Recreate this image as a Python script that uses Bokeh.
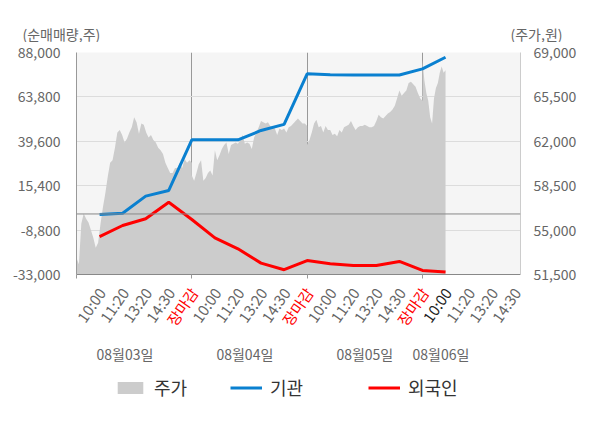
import math
from bokeh.plotting import figure
from bokeh.layouts import column
from bokeh.models import (Range1d, LinearAxis, FixedTicker, NumeralTickFormatter,
                          Span, Legend, LegendItem, CustomJSTickFormatter, ColumnDataSource)
from bokeh.core.properties import value
from bokeh.embed import file_html
from bokeh.resources import INLINE

# ---------------- data ----------------
days = ["08월03일", "08월04일", "08월05일", "08월06일"]
time_labels = ["10:00", "11:20", "13:20", "14:30", "장마감"]
last_day_ticks = 4          # 08월06일 shows 10:00 .. 14:30
last_reached_tick = 1       # 08월06일 data up to 10:00

price_day1 = [52800, 52300, 55500, 56300, 55900, 55600, 55000, 54400, 53600, 54000,
              55500, 56800, 57900, 59200, 60300, 60500, 61500, 62700, 62900, 62500,
              61900, 62200, 62700, 63100, 63900, 63500, 62600, 63400, 63300, 62700,
              62300, 62500, 62100, 61900, 61500, 61300, 61000, 60300, 59900, 59500,
              59500, 59900, 59900, 60300, 59900, 60600, 60300, 60500, 60300]
price_day2 = [59300, 58900, 59500, 60200, 60500, 58900, 59100, 59500, 59700, 59300,
              61300, 60500, 60900, 61400, 61700, 61900, 61000, 61700, 61800, 61900,
              61800, 62100, 62500, 61800, 61900, 61800, 61400, 62300, 62700, 63100,
              63600, 63500, 63400, 63500, 63200, 63100, 63000, 62500, 63000, 62900,
              63000, 62700, 63100, 63200, 63400, 63600, 63800, 63600, 63400, 63400,
              63200]
price_day3 = [61700, 62100, 62700, 63400, 63700, 63100, 63200, 62700, 63200, 62900,
              62900, 62500, 62600, 62400, 62900, 62700, 63100, 63200, 63300, 63600,
              63200, 62900, 63100, 63200, 63200, 63300, 63200, 63100, 63100, 63200,
              63600, 64100, 63900, 63800, 64000, 64200, 64300, 64500, 64800, 65400,
              66000, 65600, 65800, 66000, 66600, 66700, 66500, 66300, 65800, 65400,
              65200]
price_day4 = [68400, 66800, 65800, 65200, 63900, 63400, 65400, 66200, 66600, 67400,
              67900, 67400, 67600]

# cumulative net buying (shares) at each time label
inst = [-300, 400, 9700, 12800, 40400,
        40400, 40400, 45500, 48800, 76400,
        75900, 75700, 75700, 75700, 79100,
        85400]
foreign = [-12300, -6300, -2600, 6400, -3000,
           -13000, -19000, -26800, -30400, -25400,
           -27200, -28100, -28100, -25900, -30800,
           -31700]

left_ticks = [-33000, -8800, 15400, 39600, 63800, 88000]
right_ticks = [51500, 55000, 58500, 62000, 65500, 69000]

# ---------------- layout constants ----------------
W = 584
FRAME_L, FRAME_W, FRAME_H = 76, 444, 222
FRAME_R = W - FRAME_L - FRAME_W
TOP_H, PAD_T, PAD_B, BOT_H = 42, 10, 10, 128
FONT = "Noto Sans CJK KR"
GRAY = "#666666"
NAN = float("nan")

# ---------------- derived positions ----------------
n_per_day = len(time_labels)
price_days = [price_day1, price_day2, price_day3, price_day4]
px, py = [], []
for d, vals in enumerate(price_days):
    span = n_per_day if d < len(price_days) - 1 else last_reached_tick
    n = len(vals)
    for i, v in enumerate(vals):
        px.append(d * n_per_day + span * i / (n - 1))
        py.append(v)

tick_pos, tick_txt, tick_col = [], [], []
for d in range(len(days)):
    cnt = n_per_day if d < len(days) - 1 else last_day_ticks
    for k in range(cnt):
        tick_pos.append(d * n_per_day + k + 1)
        tick_txt.append(time_labels[k])
for i, t in enumerate(tick_txt):
    if t == "장마감":
        tick_col.append("#ff0000")
    elif i == len(inst) - 1:
        tick_col.append("#222222")
    else:
        tick_col.append(GRAY)
flow_x = tick_pos[:len(inst)]
x_end = (len(days) - 1) * n_per_day + last_day_ticks + 0.25
u = x_end / FRAME_W  # data units per pixel


def strip(height, xr):
    f = figure(width=W, height=height, x_range=xr, y_range=Range1d(0, height),
               x_axis_type=None, y_axis_type=None, min_border=0, toolbar_location=None,
               output_backend="svg", outline_line_color=None, frame_align=False)
    f.grid.visible = False
    return f


# ---------------- top strip (axis titles) ----------------
top = strip(TOP_H, Range1d(0, W))
top.text(x=[22, 510], y=[TOP_H - 33] * 2, text=["(순매매량,주)", "(주가,원)"],
         text_align="left", text_baseline="middle", text_font=value(FONT),
         text_font_size="14px", text_color=GRAY)

# ---------------- main chart ----------------
p = figure(frame_width=FRAME_W, frame_height=FRAME_H, x_range=Range1d(0, x_end),
           y_range=Range1d(left_ticks[0], left_ticks[-1]),
           output_backend="svg", toolbar_location=None, frame_align=False,
           min_border_left=FRAME_L, min_border_right=FRAME_R,
           min_border_top=PAD_T, min_border_bottom=PAD_B,
           background_fill_color="#f5f5f5", border_fill_color="white",
           outline_line_color=None)
p.extra_y_ranges = {"price": Range1d(right_ticks[0], right_ticks[-1])}

ya = p.yaxis[0]
ya.ticker = FixedTicker(ticks=left_ticks)
ya.formatter = NumeralTickFormatter(format="0,0")
ya.major_tick_line_color = None
ya.minor_tick_line_color = None
ya.axis_line_color = "#999999"
ya.major_label_text_color = GRAY
ya.major_label_text_font = FONT
ya.major_label_text_font_size = "14px"
ya.major_label_standoff = 10

ra = LinearAxis(y_range_name="price", ticker=FixedTicker(ticks=right_ticks),
                formatter=NumeralTickFormatter(format="0,0"))
ra.major_tick_line_color = None
ra.minor_tick_line_color = None
ra.axis_line_color = "#cccccc"
ra.major_label_text_color = GRAY
ra.major_label_text_font = FONT
ra.major_label_text_font_size = "14px"
ra.major_label_standoff = 7
p.add_layout(ra, "right")

xa = p.xaxis[0]
day_bounds = [d * n_per_day for d in range(len(days))]
xa.ticker = FixedTicker(ticks=day_bounds)
xa.formatter = CustomJSTickFormatter(code="return ''")
xa.major_label_text_font_size = "0px"
xa.major_label_standoff = 0
xa.major_tick_out = 4
xa.major_tick_in = 0
xa.major_tick_line_color = "#999999"
xa.minor_tick_line_color = None
xa.axis_line_color = "#888888"

p.xgrid.ticker = FixedTicker(ticks=day_bounds[1:])
p.xgrid.grid_line_color = "#999999"
p.ygrid.ticker = FixedTicker(ticks=left_ticks[1:-1])
p.ygrid.grid_line_color = "#dcdcdc"
p.add_layout(Span(location=0, dimension="width", line_color="#888888", line_width=1))

AREA_C, INST_C, FOR_C = "#cccccc", "#0a80d0", "#ff0000"
p.varea(x=px, y1=right_ticks[0], y2=py, y_range_name="price", fill_color=AREA_C)
p.line(flow_x, inst, line_color=INST_C, line_width=3)
p.line(flow_x, foreign, line_color=FOR_C, line_width=3)

# ---------------- bottom strip (time labels, dates, legend) ----------------
bot = strip(BOT_H, Range1d(-FRAME_L * u, x_end + FRAME_R * u))
src = ColumnDataSource(dict(x=tick_pos, y=[BOT_H - 5] * len(tick_pos), t=tick_txt, c=tick_col))
bot.text(x="x", y="y", text="t", text_color="c", source=src, angle=math.radians(55),
         text_align="right", text_baseline="middle", text_font=value(FONT),
         text_font_size="15px", x_offset=2)

date_pos = [2.1, 7.3, 12.5, 15.8]
bot.text(x=date_pos, y=[59] * len(days), text=days, text_align="center",
         text_baseline="middle", text_font=value(FONT), text_font_size="14px",
         text_color=GRAY)

# legend proxies (no visible data)
d_area = bot.quad(left=[NAN], right=[NAN], bottom=[NAN], top=[NAN],
                  fill_color=AREA_C, line_color=None)
d_inst = bot.line(x=[NAN], y=[NAN], line_color=INST_C, line_width=3)
d_for = bot.line(x=[NAN], y=[NAN], line_color=FOR_C, line_width=3)
for rend, lab, xloc in [(d_area, "주가", 114), (d_inst, "기관", 230), (d_for, "외국인", 368)]:
    lg = Legend(items=[LegendItem(label=lab, renderers=[rend])], location=(xloc, 12),
                orientation="horizontal", padding=0, margin=0, spacing=0,
                glyph_width=32, glyph_height=15, label_standoff=8, label_height=15,
                label_text_font=FONT, label_text_font_size="18px", label_text_color="#333333",
                border_line_color=None, background_fill_alpha=0)
    bot.add_layout(lg)

layout = column(top, p, bot, spacing=0)
open("out.html", "w").write(file_html(layout, INLINE))
